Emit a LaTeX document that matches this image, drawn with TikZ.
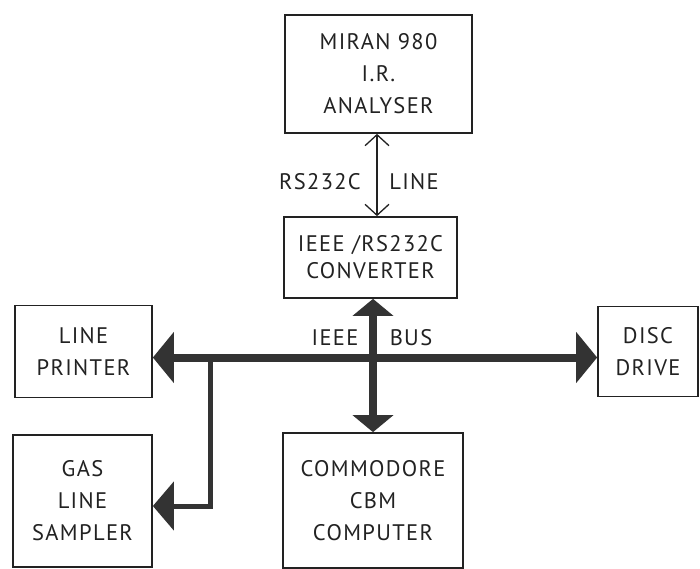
\documentclass[tikz,border=0pt]{standalone}
\usepackage{fontspec}
\setmainfont{PT Sans}[LetterSpace=6]
\usetikzlibrary{arrows.meta,calc}
\definecolor{ink}{HTML}{222222}
\definecolor{busink}{HTML}{333333}
\tikzset{
  x=1pt,y=-1pt,
  box/.style={draw=ink,line width=1.7pt,inner sep=0pt,align=center,
    font=\fontsize{22.5}{32}\selectfont,text=ink},
  lbl/.style={inner sep=0pt,font=\fontsize{22.5}{32}\selectfont,text=ink},
  thinline/.style={draw=ink,line width=1.3pt,
    {Straight Barb[length=11pt,width=24pt,line width=1.3pt]}-{Straight Barb[length=11pt,width=24pt,line width=1.3pt]}},
  bus/.style={draw=busink,line width=8pt},
  branch/.style={draw=busink,line width=5pt,-{Triangle[length=21pt,width=48pt,fill=busink]}},
}
\begin{document}
\begin{tikzpicture}
\useasboundingbox[fill=white] (0,0) rectangle (700,569);
\node[box,minimum width=187pt,minimum height=118pt] (miran) at (378.5,74)
  {MIRAN 980\\I.R.\\ANALYSER};
\node[box,minimum width=173pt,minimum height=81pt,font=\fontsize{22.5}{27}\selectfont] (conv) at (370.5,257.5)
  {IEEE /RS232C\\CONVERTER};
\node[box,minimum width=137pt,minimum height=92pt] (printer) at (83.5,351.5)
  {LINE\\PRINTER};
\node[box,minimum width=139pt,minimum height=132pt] (gas) at (82.5,501)
  {GAS\\LINE\\SAMPLER};
\node[box,minimum width=180pt,minimum height=135pt] (comp) at (373,500.5)
  {COMMODORE\\CBM\\COMPUTER};
\node[box,minimum width=100pt,minimum height=90pt] (disc) at (648,351.5)
  {DISC\\DRIVE};

\draw[thinline] ([xshift=-1.5pt]miran.south) -- ([xshift=-1.5pt]miran.south |- conv.north);

\coordinate (tap) at (210,357.5);
\draw[branch] (tap) |- ([yshift=-5pt]gas.east);
\draw[bus,{Triangle[length=21pt,width=50pt,fill=busink]}-{Triangle[length=21pt,width=50pt,fill=busink]}]
  ([yshift=-6pt]printer.east) -- ([yshift=-6pt]disc.west);
\draw[bus,{Triangle[length=17pt,width=40pt,fill=busink]}-{Triangle[length=17pt,width=40pt,fill=busink]}]
  (comp.north |- conv.south) -- (comp.north);

\node[lbl] (rs) at (320,182) {RS232C};
\node[lbl] (line) at (414,182) {LINE};
\node[lbl] (ieee) at (335,338) {IEEE};
\node[lbl] (busl) at (411,338) {BUS};
\end{tikzpicture}
\end{document}
